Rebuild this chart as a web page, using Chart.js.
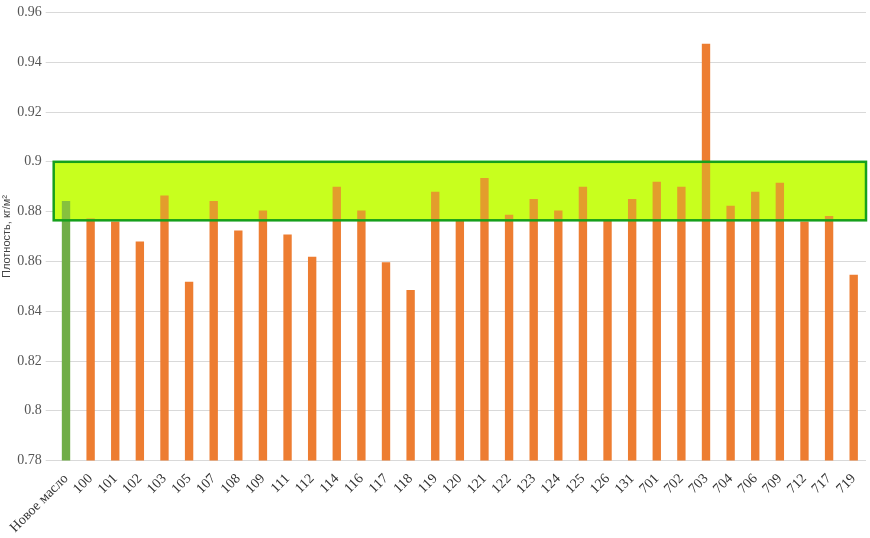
<!DOCTYPE html>
<html><head><meta charset="utf-8">
<script src="https://cdn.jsdelivr.net/npm/chart.js@4/dist/chart.umd.min.js"></script>
<style>html,body{margin:0;background:#fff}#w{width:870px;height:538px}</style>
</head><body><div id="w"><canvas id="c"></canvas></div>
<script>
const categories = ["Новое масло","100","101","102","103","105","107","108","109","111","112","114","116","117","118","119","120","121","122","123","124","125","126","131","701","702","703","704","706","709","712","717","719"];
const densities = [0.8843,0.8772,0.876,0.868,0.8865,0.8518,0.8843,0.8724,0.8804,0.8708,0.8619,0.890,0.8804,0.8597,0.8485,0.888,0.8765,0.8935,0.8787,0.8851,0.8804,0.890,0.8765,0.8851,0.892,0.890,0.9474,0.8823,0.888,0.8916,0.876,0.8782,0.8546];
const bandLow = 0.8765, bandHigh = 0.9;
const yTicks = {min:0.78, max:0.96, step:0.02};

const bandPlugin = {
  id:'band',
  beforeDatasetsDraw(chart){
    const {ctx, chartArea:a, scales:{y}} = chart;
    const t = y.getPixelForValue(bandHigh), b = y.getPixelForValue(bandLow);
    ctx.save();
    ctx.fillStyle = '#c8ff1e';
    ctx.fillRect(a.left, t, a.right - a.left, b - t);
    ctx.restore();
  },
  afterDatasetsDraw(chart){
    const {ctx, chartArea:a, scales:{y}} = chart;
    const t = y.getPixelForValue(bandHigh), b = y.getPixelForValue(bandLow);
    ctx.save();
    ctx.fillStyle = 'rgba(200,255,30,0.25)';
    ctx.fillRect(a.left, t, a.right - a.left, b - t);
    ctx.strokeStyle = '#16a01c'; ctx.lineWidth = 2.5;
    ctx.strokeRect(a.left, t, a.right - a.left, b - t);
    ctx.restore();
  }
};

new Chart(document.getElementById('c'), {
  type:'bar',
  data:{labels:categories, datasets:[{data:densities,
    backgroundColor: categories.map((c,i)=> i===0 ? '#70ad47' : '#ed7d31'),
    barPercentage:0.34, categoryPercentage:1}]},
  options:{
    responsive:true, maintainAspectRatio:false, animation:false,
    layout:{padding:{top:8,right:4,left:0,bottom:0}},
    plugins:{legend:{display:false}, tooltip:{enabled:false}},
    scales:{
      x:{grid:{display:false}, border:{display:false},
        ticks:{minRotation:45, maxRotation:45, autoSkip:false, color:'#333', padding:2, font:{family:'Liberation Serif', size:14}}},
      y:{min:yTicks.min, max:yTicks.max, grid:{color:'#d9d9d9'}, border:{display:false},
        ticks:{stepSize:yTicks.step, color:'#555', padding:4, font:{family:'Liberation Serif', size:14},
          callback:v=>String(parseFloat(v.toFixed(2)))},
        title:{display:true, padding:0, text:'Плотность, кг/м²', color:'#444', font:{family:'Liberation Sans', size:11}}}
    }
  },
  plugins:[bandPlugin]
});
</script></body></html>
